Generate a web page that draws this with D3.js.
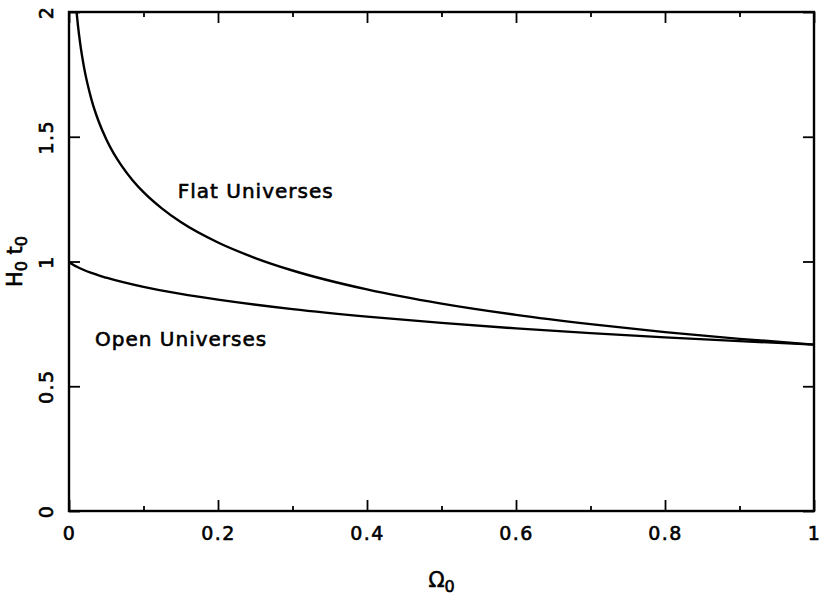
<!DOCTYPE html>
<html>
<head>
<meta charset="utf-8">
<script src="https://cdn.jsdelivr.net/npm/d3@7"></script>
<style>
  html, body { margin: 0; padding: 0; background: #fff; }
  text { font-family: "DejaVu Sans", sans-serif; fill: #000; stroke: #000; stroke-width: 0.6px; }
</style>
</head>
<body>
<div id="chart"></div>
<script>
// Data ////////////////////////////////////////////////
const omegaFlat = [0.01, 0.012, 0.015, 0.02, 0.03, 0.04, 0.05, 0.06, 0.07, 0.085, 0.1, 0.125, 0.15, 0.2, 0.25, 0.3, 0.4, 0.5, 0.6, 0.7, 0.8, 0.9, 1.0];
const ageFlat   = [2.005, 1.946, 1.874, 1.781, 1.651, 1.560, 1.490, 1.433, 1.386, 1.327, 1.278, 1.212, 1.158, 1.076, 1.014, 0.964, 0.888, 0.831, 0.786, 0.749, 0.717, 0.690, 0.667];

const omegaOpen = [0, 0.001, 0.0025, 0.005, 0.01, 0.02, 0.03, 0.05, 0.1, 0.15, 0.2, 0.3, 0.4, 0.5, 0.6, 0.7, 0.8, 0.9, 1.0];
const ageOpen   = [1.0, 0.997, 0.993, 0.988, 0.980, 0.966, 0.954, 0.935, 0.898, 0.870, 0.847, 0.809, 0.779, 0.754, 0.732, 0.713, 0.696, 0.681, 0.667];

const xMajorTicks = [0, 0.2, 0.4, 0.6, 0.8, 1];
const xMinorTicks = [0.1, 0.3, 0.5, 0.7, 0.9];
const yMajorTicks = [0, 0.5, 1, 1.5, 2];

const curveLabels = [
  { text: 'Flat Universes', omega: 0.146, age: 1.255 },
  { text: 'Open Universes', omega: 0.035, age: 0.66 }
];

// Setup //////////////////////////////////////////////////////////////////
const width = 820, height = 602;
const margin = { top: 12, right: 6, bottom: 91, left: 69 };

const svg = d3.select('#chart').append('svg')
  .attr('width', width)
  .attr('height', height)
  .attr('viewBox', [0, 0, width, height]);

const x = d3.scaleLinear().domain([0, 1]).range([margin.left, width - margin.right]);
const y = d3.scaleLinear().domain([0, 2]).range([height - margin.bottom, margin.top]);

const defs = svg.append('defs');
defs.append('clipPath').attr('id', 'plot-clip')
  .append('rect')
  .attr('x', x(0)).attr('y', y(2))
  .attr('width', x(1) - x(0)).attr('height', y(0) - y(2));

const axes   = svg.append('g').attr('id', 'axes');
const curves = svg.append('g').attr('id', 'curves').attr('clip-path', 'url(#plot-clip)');
const labels = svg.append('g').attr('id', 'labels');

// Axes (ticks point inward, mirrored on top and right) ///////////////////
const styleAxis = g => {
  g.select('.domain').remove();
  g.selectAll('.tick line').attr('stroke', '#000').attr('stroke-width', 1.8);
};

axes.append('g')
  .attr('transform', `translate(0,${y(0)})`)
  .call(d3.axisBottom(x).tickValues(xMajorTicks).tickFormat(d3.format('')).tickSize(-11))
  .call(styleAxis)
  .call(g => g.selectAll('.tick text')
    .attr('y', 29).attr('dy', 0)
    .attr('font-size', 19).attr('letter-spacing', 1.5)
    .attr('font-family', '"DejaVu Sans", sans-serif'));

axes.append('g')
  .attr('transform', `translate(0,${y(0)})`)
  .call(d3.axisBottom(x).tickValues(xMinorTicks).tickFormat('').tickSize(-5))
  .call(styleAxis);

axes.append('g')
  .attr('transform', `translate(0,${y(2)})`)
  .call(d3.axisTop(x).tickValues(xMajorTicks).tickFormat('').tickSize(-11))
  .call(styleAxis);

axes.append('g')
  .attr('transform', `translate(0,${y(2)})`)
  .call(d3.axisTop(x).tickValues(xMinorTicks).tickFormat('').tickSize(-5))
  .call(styleAxis);

axes.append('g')
  .attr('transform', `translate(${x(0)},0)`)
  .call(d3.axisLeft(y).tickValues(yMajorTicks).tickFormat(d3.format('')).tickSize(-11))
  .call(styleAxis)
  .call(g => g.selectAll('.tick text')
    .attr('x', 0).attr('dy', 0)
    .attr('text-anchor', 'middle')
    .attr('transform', 'translate(-16,0) rotate(-90)')
    .attr('font-size', 19).attr('letter-spacing', 1.5)
    .attr('font-family', '"DejaVu Sans", sans-serif'));

axes.append('g')
  .attr('transform', `translate(${x(1)},0)`)
  .call(d3.axisRight(y).tickValues(yMajorTicks).tickFormat('').tickSize(-11))
  .call(styleAxis);

// Frame
axes.append('rect')
  .attr('x', x(0)).attr('y', y(2))
  .attr('width', x(1) - x(0)).attr('height', y(0) - y(2))
  .attr('fill', 'none').attr('stroke', '#000').attr('stroke-width', 2.4);

// Curves /////////////////////////////////////////////////////////////////
const line = d3.line()
  .x(d => x(d[0]))
  .y(d => y(d[1]))
  .curve(d3.curveMonotoneX);

curves.selectAll('path')
  .data([d3.zip(omegaFlat, ageFlat), d3.zip(omegaOpen, ageOpen)])
  .join('path')
  .attr('d', line)
  .attr('fill', 'none')
  .attr('stroke', '#000')
  .attr('stroke-width', 2.4);

// Labels /////////////////////////////////////////////////////////////////
labels.selectAll('text.curve-label')
  .data(curveLabels)
  .join('text')
  .attr('class', 'curve-label')
  .attr('x', d => x(d.omega))
  .attr('y', d => y(d.age))
  .attr('font-size', 20)
  .attr('letter-spacing', 1)
  .text(d => d.text);

// x-axis title: Ω0
const xt = labels.append('text')
  .attr('x', (x(0) + x(1)) / 2)
  .attr('y', 587)
  .attr('text-anchor', 'middle')
  .attr('font-size', 21);
xt.append('tspan').text('Ω');
xt.append('tspan').attr('dy', 5).attr('font-size', 16).text('0');

// y-axis title: H0 t0
const yt = labels.append('text')
  .attr('transform', `translate(22,${y(1)}) rotate(-90)`)
  .attr('text-anchor', 'middle')
  .attr('font-size', 21);
yt.append('tspan').text('H');
yt.append('tspan').attr('dy', 5).attr('font-size', 16).text('0');
yt.append('tspan').attr('dy', -5).text(' t');
yt.append('tspan').attr('dy', 5).attr('font-size', 16).text('0');
</script>
</body>
</html>
